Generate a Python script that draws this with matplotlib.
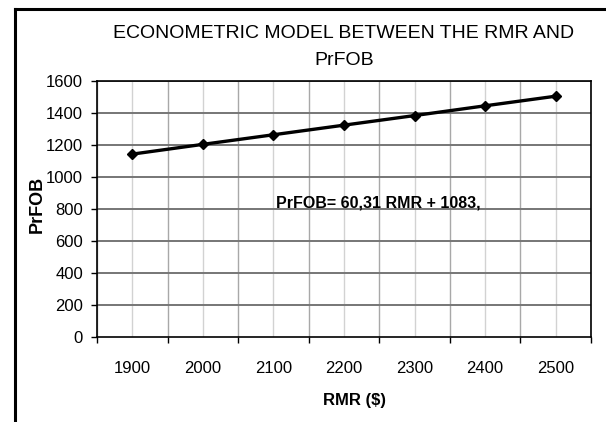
import matplotlib
matplotlib.use("Agg")
import matplotlib.pyplot as plt
from matplotlib.lines import Line2D

plt.rcParams['font.family'] = ['Liberation Sans', 'DejaVu Sans']

# data
rmr = ["1900", "2000", "2100", "2200", "2300", "2400", "2500"]
prfob = [1143, 1204, 1264, 1324, 1384, 1445, 1505]
y_ticks = [0, 200, 400, 600, 800, 1000, 1200, 1400, 1600]
equation = "PrFOB= 60,31 RMR + 1083,"

fig = plt.figure(figsize=(6.06, 4.22), dpi=100)
ax = fig.add_axes([97 / 606, 1 - 337 / 422, (591 - 97) / 606, (337 - 81) / 422])

pos = list(range(len(rmr)))
n = len(rmr)

# vertical grid: category boundaries and centres
for k in range(n + 1):
    ax.axvline(k - 0.5, color="#a8a8a8", lw=1, zorder=0)
for k in pos:
    ax.axvline(k, color="#d2d2d2", lw=1, zorder=0)
for v in y_ticks[1:]:
    ax.axhline(v, color="#767676", lw=1.4, zorder=1)

ax.plot(pos, prfob, color="black", lw=2.4, marker="D", markersize=5.5, zorder=3)

ax.set_xlim(-0.5, n - 0.5)
ax.set_ylim(0, 1600)
ax.set_yticks(y_ticks)
ax.set_xticks([k - 0.5 for k in range(n + 1)])
ax.set_xticklabels([])
ax.set_xticks(pos, minor=True)
ax.set_xticklabels(rmr, minor=True, fontsize=12)
ax.tick_params(axis="x", which="minor", length=0, pad=17)
ax.tick_params(axis="x", which="major", length=4.5, width=1, direction="out")
ax.tick_params(axis="y", length=4.5, width=1, labelsize=12, pad=5.5)
for s in ax.spines.values():
    s.set_color("black")
    s.set_linewidth(1.2)

ax.set_xlabel("RMR ($)", fontsize=12, fontweight="bold")
ax.xaxis.set_label_coords(0.522, -0.219)
ax.set_ylabel("PrFOB", fontsize=13, fontweight="bold")
ax.yaxis.set_label_coords(-0.103, 0.516)
ax.set_title("ECONOMETRIC MODEL BETWEEN THE RMR AND\nPrFOB", fontsize=14,
             linespacing=1.8, pad=11.5)

ax.text(2.03, 812, equation, fontsize=11.5, fontweight="bold", ha="left", va="baseline",
        zorder=4)

# outer frame of the pasted chart
fig.add_artist(Line2D([14.5 / 606, 14.5 / 606], [0, 1 - 9 / 422], color="black", lw=2.2))
fig.add_artist(Line2D([14.5 / 606, 1], [1 - 9 / 422, 1 - 9 / 422], color="black", lw=2.2))

fig.savefig("out.png", dpi=100)
